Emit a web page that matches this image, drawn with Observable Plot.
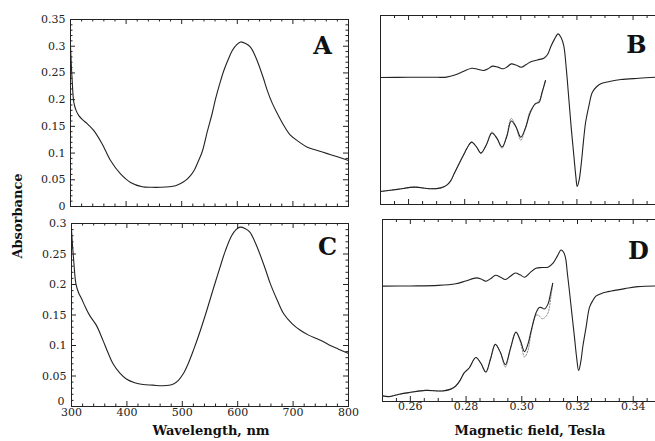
<!DOCTYPE html>
<html>
<head>
<meta charset="utf-8">
<script src="https://cdn.jsdelivr.net/npm/d3@7"></script>
<script src="https://cdn.jsdelivr.net/npm/@observablehq/plot@0.6"></script>
<style>
  html, body { margin: 0; padding: 0; background: #fff; }
  #fig { position: relative; width: 655px; height: 441px; background: #fff; overflow: hidden; }
  #fig > .panel { position: absolute; }
  .lab { position: absolute; font-family: "DejaVu Serif", serif; font-weight: bold; font-size: 13px; color: #111; white-space: nowrap; transform: translate(-50%, -50%); }
</style>
</head>
<body>
<div id="fig"></div>
<script>
// ---------- Data ----------
// Panel A: optical absorption spectrum
const aWavelength = [300,303,306,310,315,322,330,342,357,372,390,408,429,445,462,478,489,498,507,515,522,530,537,546,555,561,569,576,584,591,599,606,615,624,632,639,647,654,663,672,684,696,711,726,744,762,780,800];
const aAbsorbance = [0.300,0.236,0.195,0.180,0.170,0.162,0.155,0.142,0.117,0.086,0.061,0.045,0.037,0.036,0.036,0.037,0.039,0.043,0.049,0.057,0.067,0.085,0.103,0.140,0.175,0.202,0.232,0.255,0.276,0.292,0.303,0.308,0.305,0.298,0.282,0.264,0.240,0.217,0.193,0.174,0.151,0.133,0.121,0.111,0.105,0.099,0.093,0.086];

// Panel C: optical absorption spectrum
const cWavelength = [300,302,304,308,313,318,325,333,345,357,366,375,387,399,414,429,447,465,484,493,502,511,520,532,544,556,568,578,589,597,604,613,622,631,640,650,659,671,683,698,713,728,743,755,767,782,800];
const cAbsorbance = [0.290,0.262,0.239,0.201,0.186,0.177,0.163,0.149,0.133,0.108,0.088,0.070,0.055,0.045,0.039,0.036,0.035,0.034,0.037,0.043,0.054,0.071,0.092,0.123,0.157,0.193,0.228,0.256,0.280,0.290,0.294,0.292,0.286,0.270,0.250,0.225,0.201,0.175,0.152,0.136,0.125,0.117,0.111,0.106,0.100,0.094,0.087];

// Panel B: EPR spectra (arbitrary units)
const bFieldUpper = [0.25,0.26,0.27,0.2735,0.2765,0.2795,0.2825,0.2846,0.2867,0.2883,0.2899,0.2918,0.2938,0.2952,0.2966,0.2983,0.3001,0.3018,0.3034,0.3059,0.3082,0.3096,0.3106,0.3120,0.3133,0.3143,0.3153,0.3162,0.3171,0.3180,0.3189,0.3196,0.3201,0.3208,0.3216,0.3223,0.3231,0.3243,0.3255,0.3270,0.3285,0.3320,0.3357,0.3420,0.3482];
const bUpper = [67.2,67.3,67.3,67.4,68.5,70.4,72.1,71.6,70.9,71.8,73.2,72.7,71.8,72.9,74.4,73.8,72.6,73.9,75.4,76.5,77.4,79.5,83.2,87.5,90.3,88.5,84.1,72.0,56.1,40.0,25.9,15.0,9.5,13.0,22.4,33.0,43.5,52.5,59.4,62.3,63.9,65.2,66.1,66.8,67.4];
const bFieldLower = [0.25,0.2560,0.2622,0.2676,0.2715,0.2735,0.2750,0.2765,0.2783,0.2801,0.2815,0.2825,0.2842,0.2858,0.2877,0.2897,0.2915,0.2933,0.2950,0.2966,0.2983,0.3000,0.3016,0.3034,0.3052,0.3065,0.3076,0.3088];
const bLower = [6.9,8.0,9.2,8.3,8.8,10.1,12.5,17.1,22.5,27.7,31.5,33.0,30.5,27.2,31.5,37.8,35.0,30.4,36.0,44.2,41.0,35.6,40.2,48.8,53.4,54.0,59.4,65.6];
const bLowerSim = [6.9,8.0,9.2,8.3,8.8,10.1,12.5,17.1,22.5,27.7,31.5,33.0,30.5,27.2,31.5,38.3,35.0,29.8,36.5,45.5,41.0,34.0,40.2,49.5,53.0,55.0,59.4,65.6];

// Panel D: EPR spectra (arbitrary units)
const dFieldUpper = [0.25,0.26,0.27,0.2763,0.2799,0.2837,0.2854,0.2871,0.2889,0.2906,0.2924,0.2941,0.2959,0.2977,0.2994,0.3010,0.3030,0.3051,0.3073,0.3094,0.3113,0.3128,0.3141,0.3150,0.3157,0.3164,0.3171,0.3180,0.3189,0.3197,0.3204,0.3212,0.3219,0.3231,0.3243,0.3255,0.3267,0.3290,0.3321,0.3370,0.3417,0.3483];
const dUpper = [63.4,63.5,63.8,64.7,66.2,67.9,67.3,66.1,67.6,69.4,68.3,67.0,68.8,70.6,69.6,68.3,70.8,73.2,73.6,73.8,76.2,80.0,83.2,82.0,78.9,70.0,60.7,48.0,35.5,24.0,17.0,22.0,30.1,41.0,51.7,55.5,58.0,59.6,60.7,62.0,63.1,63.5];
const dFieldLower = [0.25,0.2523,0.2560,0.2595,0.2655,0.2715,0.2745,0.2763,0.2780,0.2793,0.2811,0.2835,0.2853,0.2871,0.2888,0.2905,0.2923,0.2941,0.2960,0.2979,0.2995,0.3010,0.3022,0.3034,0.3052,0.3063,0.3072,0.3081,0.3094,0.3105,0.3111];
const dLower = [3.1,2.7,4.0,4.9,6.1,5.8,6.8,8.5,12.0,15.7,18.4,24.2,21.0,16.2,23.5,31.4,27.0,20.2,29.5,38.1,33.5,27.4,31.5,39.1,49.0,51.7,51.5,50.8,53.5,60.7,64.9];
const dLowerSim = [3.1,2.7,4.0,4.9,6.1,5.8,6.8,8.5,12.0,15.7,18.4,24.2,21.0,16.0,23.5,31.4,27.0,19.0,29.5,38.1,32.5,24.5,28.0,38.0,47.5,47.0,45.5,45.9,48.6,58.0,64.9];

// Tick values
const absTicksA = [0,0.05,0.1,0.15,0.2,0.25,0.3,0.35];
const absTicksC = [0,0.05,0.1,0.15,0.2,0.25,0.3];
const absMinor = [0.01,0.02,0.03,0.04,0.06,0.07,0.08,0.09,0.11,0.12,0.13,0.14,0.16,0.17,0.18,0.19,0.21,0.22,0.23,0.24,0.26,0.27,0.28,0.29,0.31,0.32,0.33,0.34];
const wlTicks = [300,400,500,600,700,800];
const wlMinor = [320,340,360,380,420,440,460,480,520,540,560,580,620,640,660,680,720,740,760,780];
const fieldTicks = [0.26,0.28,0.30,0.32,0.34];
const fieldMinor = [0.255,0.265,0.27,0.275,0.285,0.29,0.295,0.305,0.31,0.315,0.325,0.33,0.335,0.345];

// ---------- Drawing ----------
const fig = document.getElementById("fig");
const INK = "#222";
const baseStyle = {fontFamily: "'DejaVu Serif', serif", fontSize: "11px", color: INK, background: "transparent", overflow: "visible"};
const fmtAbs = d => d3.format("~g")(d);

function place(svg, left, top) {
  svg.classList.add("panel");
  svg.style.left = left + "px";
  svg.style.top = top + "px";
  fig.appendChild(svg);
}

function spectrumPanel({wl, abs, yMax, yTicks, letter, letterDx, letterDy, showX, W, H, mL, mR, mT, mB}) {
  const fw = W - mL - mR, fh = H - mT - mB;
  const pts = wl.map((w, i) => ({w, a: abs[i]}));
  const marks = [
    Plot.frame({stroke: INK, strokeWidth: 1}),
    Plot.tickY(yTicks, {y: d => d, insetRight: fw - 5, stroke: INK}),
    Plot.tickY(yTicks, {y: d => d, insetLeft: fw - 5, stroke: INK}),
    Plot.tickY(absMinor.filter(d => d < yMax), {y: d => d, insetRight: fw - 2.5, stroke: INK}),
    Plot.tickY(absMinor.filter(d => d < yMax), {y: d => d, insetLeft: fw - 2.5, stroke: INK}),
    Plot.tickX(wlTicks, {x: d => d, insetTop: fh - 5, stroke: INK}),
    Plot.tickX(wlTicks, {x: d => d, insetBottom: fh - 5, stroke: INK}),
    Plot.tickX(wlMinor, {x: d => d, insetTop: fh - 2.5, stroke: INK}),
    Plot.tickX(wlMinor, {x: d => d, insetBottom: fh - 2.5, stroke: INK}),
    Plot.axisY(yTicks.filter(d => d !== 0), {tickSize: 0, tickPadding: 5, tickFormat: fmtAbs, fontSize: 11, label: null}),
    Plot.axisY([0], {tickSize: 0, tickPadding: 5, tickFormat: fmtAbs, fontSize: 11, label: null, dy: showX ? -5 : 0, dx: showX ? -2 : 0}),
    Plot.line(pts, {x: "w", y: "a", stroke: INK, strokeWidth: 1.1, curve: "catmull-rom"}),
    Plot.text([letter], {text: d => d, frameAnchor: "top-right", dx: letterDx, dy: letterDy, fontSize: 24, fontWeight: "bold", textAnchor: "middle", lineAnchor: "middle", fill: "#111"})
  ];
  if (showX) marks.push(Plot.axisX(wlTicks, {tickSize: 0, tickPadding: 2, fontSize: 11, label: null}));
  return Plot.plot({
    width: W, height: H, marginLeft: mL, marginRight: mR, marginTop: mT, marginBottom: mB,
    x: {domain: [300, 800], axis: null},
    y: {domain: [0, yMax], axis: null},
    style: baseStyle,
    marks
  });
}

function eprPanel({fu, up, fl, low, lowSim, letter, letterDx, letterDy, showX, W, H, mL, mR, mT, mB}) {
  const fh = H - mT - mB;
  const upper = fu.map((f, i) => ({f, v: up[i]}));
  const lower = fl.map((f, i) => ({f, v: low[i]}));
  const lowerSim = fl.map((f, i) => ({f, v: lowSim[i]}));
  const marks = [
    Plot.ruleY([0, 100], {stroke: INK, strokeWidth: 1}),
    Plot.ruleX([0.25], {stroke: INK, strokeWidth: 1}),
    Plot.tickX(fieldTicks, {x: d => d, insetTop: fh - 5, stroke: INK}),
    Plot.tickX(fieldTicks, {x: d => d, insetBottom: fh - 5, stroke: INK}),
    Plot.tickX(fieldMinor, {x: d => d, insetTop: fh - 3, stroke: INK}),
    Plot.tickX(fieldMinor, {x: d => d, insetBottom: fh - 3, stroke: INK}),
    Plot.line(lowerSim, {x: "f", y: "v", stroke: "#888", strokeWidth: 1, strokeDasharray: "1.5,1.5", curve: "catmull-rom"}),
    Plot.line(upper, {x: "f", y: "v", stroke: INK, strokeWidth: 1.1, curve: "catmull-rom"}),
    Plot.line(lower, {x: "f", y: "v", stroke: INK, strokeWidth: 1.1, curve: "catmull-rom"}),
    Plot.text([letter], {text: d => d, frameAnchor: "top-right", dx: letterDx, dy: letterDy, fontSize: 24, fontWeight: "bold", textAnchor: "middle", lineAnchor: "middle", fill: "#111"})
  ];
  if (showX) marks.push(Plot.axisX(fieldTicks, {tickSize: 0, tickPadding: 1, tickFormat: d3.format(".2f"), fontSize: 11, label: null}));
  return Plot.plot({
    width: W, height: H, marginLeft: mL, marginRight: mR, marginTop: mT, marginBottom: mB,
    x: {domain: [0.25, 0.348], axis: null},
    y: {domain: [0, 100], axis: null},
    style: baseStyle,
    marks
  });
}

place(spectrumPanel({wl: aWavelength, abs: aAbsorbance, yMax: 0.35, yTicks: absTicksA, letter: "A", letterDx: -26, letterDy: 27, showX: false,
  W: 352, H: 212, mL: 70, mR: 4, mT: 19, mB: 6}), 0, 0);
place(spectrumPanel({wl: cWavelength, abs: cAbsorbance, yMax: 0.3, yTicks: absTicksC, letter: "C", letterDx: -21, letterDy: 24, showX: true,
  W: 352, H: 229, mL: 71, mR: 4, mT: 11, mB: 35}), 0, 212);
place(eprPanel({fu: bFieldUpper, up: bUpper, fl: bFieldLower, low: bLower, lowSim: bLowerSim, letter: "B", letterDx: -19, letterDy: 30, showX: false,
  W: 303, H: 212, mL: 28, mR: 0, mT: 15, mB: 8}), 352, 0);
place(eprPanel({fu: dFieldUpper, up: dUpper, fl: dFieldLower, low: dLower, lowSim: dLowerSim, letter: "D", letterDx: -17, letterDy: 32, showX: true,
  W: 303, H: 229, mL: 30, mR: 0, mT: 7, mB: 40}), 352, 212);

// Axis titles
function label(text, x, y, rotate) {
  const d = document.createElement("div");
  d.className = "lab";
  d.textContent = text;
  d.style.left = x + "px";
  d.style.top = y + "px";
  if (rotate) d.style.transform = "translate(-50%, -50%) rotate(-90deg)";
  fig.appendChild(d);
}
label("Absorbance", 17, 216, true);
label("Wavelength, nm", 211, 430, false);
label("Magnetic field, Tesla", 530, 430, false);
</script>
</body>
</html>
